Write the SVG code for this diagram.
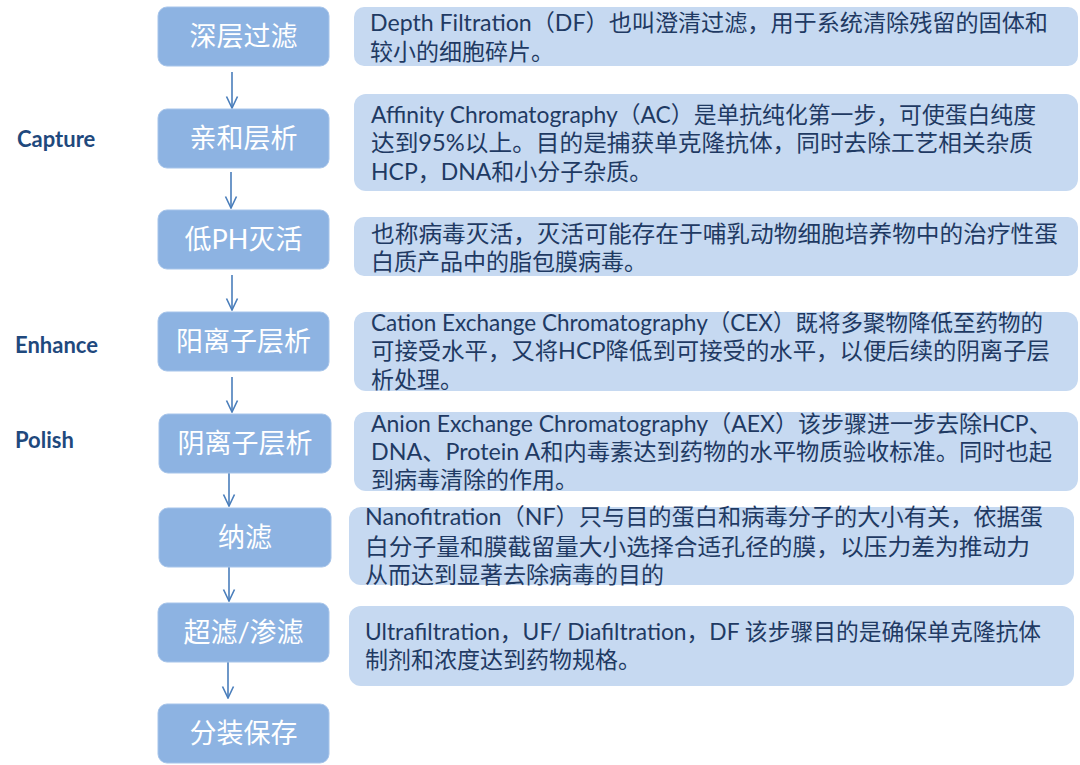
<svg xmlns="http://www.w3.org/2000/svg" width="1080" height="765" viewBox="0 0 1080 765">
<defs>
<style>
.step{fill:#8db3e2;stroke:#a6c4ea;stroke-width:1}
.note{fill:#c6d9f1}
.st{font-family:Lato,"Noto Sans CJK SC",sans-serif;font-size:27px;fill:#ffffff;text-anchor:middle}
.nt{font-family:Lato,"Noto Sans CJK SC",sans-serif;font-size:23px;fill:#1f3a63}
.lab{font-family:Lato,"Noto Sans CJK SC",sans-serif;font-size:22px;font-weight:bold;fill:#1f497d}
.arr{stroke:#4a7ebb;stroke-width:1.6;fill:none}
</style>
<marker id="ah" viewBox="0 0 14 14" refX="13" refY="7" markerWidth="14" markerHeight="14" markerUnits="userSpaceOnUse" orient="auto">
<path d="M1.5,1.5 L13,7 L1.5,12.5" fill="none" stroke="#4a7ebb" stroke-width="1.6"/>
</marker>
</defs>
<rect width="1080" height="765" fill="#ffffff"/>

<g id="labels">
<text class="lab" x="17" y="147">Capture</text>
<text class="lab" x="15" y="353">Enhance</text>
<text class="lab" x="15" y="448">Polish</text>
</g>

<g id="connectors">
<path class="arr" d="M232,72 V108" marker-end="url(#ah)"/>
<path class="arr" d="M231,172 V208" marker-end="url(#ah)"/>
<path class="arr" d="M232,275 V310" marker-end="url(#ah)"/>
<path class="arr" d="M232,377 V412" marker-end="url(#ah)"/>
<path class="arr" d="M229,471 V506" marker-end="url(#ah)"/>
<path class="arr" d="M229,567 V601" marker-end="url(#ah)"/>
<path class="arr" d="M228,662 V698" marker-end="url(#ah)"/>
</g>

<g id="step1"><rect class="step" x="158" y="7" width="171" height="59" rx="9"/><text class="st" x="243.5" y="46">深层过滤</text></g>
<g id="step2"><rect class="step" x="158" y="109" width="171" height="59" rx="9"/><text class="st" x="243.5" y="148">亲和层析</text></g>
<g id="step3"><rect class="step" x="158" y="210" width="171" height="59" rx="9"/><text class="st" x="243.5" y="249">低PH灭活</text></g>
<g id="step4"><rect class="step" x="158" y="312" width="171" height="59" rx="9"/><text class="st" x="243.5" y="351">阳离子层析</text></g>
<g id="step5"><rect class="step" x="159" y="414" width="172" height="59" rx="9"/><text class="st" x="245" y="453">阴离子层析</text></g>
<g id="step6"><rect class="step" x="159" y="508" width="172" height="59" rx="9"/><text class="st" x="245" y="547">纳滤</text></g>
<g id="step7"><rect class="step" x="158" y="603" width="171" height="59" rx="9"/><text class="st" x="243.5" y="642">超滤/渗滤</text></g>
<g id="step8"><rect class="step" x="158" y="704" width="171" height="59" rx="9"/><text class="st" x="243.5" y="743">分装保存</text></g>

<g id="note1"><rect class="note" x="354" y="7" width="724" height="59" rx="10"/>
<text class="nt" x="370" y="31" textLength="678" lengthAdjust="spacingAndGlyphs">Depth Filtration（DF）也叫澄清过滤，用于系统清除残留的固体和</text>
<text class="nt" x="370" y="60">较小的细胞碎片。</text></g>

<g id="note2"><rect class="note" x="354" y="94" width="724" height="97" rx="12"/>
<text class="nt" x="371" y="123" textLength="665" lengthAdjust="spacingAndGlyphs">Affinity Chromatography（AC）是单抗纯化第一步，可使蛋白纯度</text>
<text class="nt" x="371" y="151" textLength="662" lengthAdjust="spacingAndGlyphs">达到95%以上。目的是捕获单克隆抗体，同时去除工艺相关杂质</text>
<text class="nt" x="371" y="180">HCP，DNA和小分子杂质。</text></g>

<g id="note3"><rect class="note" x="354" y="217" width="724" height="59" rx="10"/>
<text class="nt" x="371" y="242" textLength="687" lengthAdjust="spacingAndGlyphs">也称病毒灭活，灭活可能存在于哺乳动物细胞培养物中的治疗性蛋</text>
<text class="nt" x="371" y="270">白质产品中的脂包膜病毒。</text></g>

<g id="note4"><rect class="note" x="354" y="312" width="724" height="79" rx="12"/>
<text class="nt" x="371" y="331" textLength="672" lengthAdjust="spacingAndGlyphs">Cation Exchange Chromatography（CEX）既将多聚物降低至药物的</text>
<text class="nt" x="371" y="359" textLength="679" lengthAdjust="spacingAndGlyphs">可接受水平，又将HCP降低到可接受的水平，以便后续的阴离子层</text>
<text class="nt" x="371" y="388">析处理。</text></g>

<g id="note5"><rect class="note" x="354" y="412" width="724" height="79" rx="12"/>
<text class="nt" x="371" y="432">Anion Exchange Chromatography（AEX）该步骤进一步去除HCP、</text>
<text class="nt" x="371" y="460" textLength="681" lengthAdjust="spacingAndGlyphs">DNA、Protein A和内毒素达到药物的水平物质验收标准。同时也起</text>
<text class="nt" x="371" y="488">到病毒清除的作用。</text></g>

<g id="note6"><rect class="note" x="349" y="507" width="725" height="78" rx="12"/>
<text class="nt" x="365" y="525" textLength="678" lengthAdjust="spacingAndGlyphs">Nanofitration（NF）只与目的蛋白和病毒分子的大小有关，依据蛋</text>
<text class="nt" x="365" y="555" textLength="665" lengthAdjust="spacingAndGlyphs">白分子量和膜截留量大小选择合适孔径的膜，以压力差为推动力</text>
<text class="nt" x="365" y="583">从而达到显著去除病毒的目的</text></g>

<g id="note7"><rect class="note" x="349" y="606" width="725" height="80" rx="12"/>
<text class="nt" x="365" y="640" textLength="676" lengthAdjust="spacingAndGlyphs">Ultrafiltration，UF/ Diafiltration，DF 该步骤目的是确保单克隆抗体</text>
<text class="nt" x="365" y="668">制剂和浓度达到药物规格。</text></g>
</svg>
